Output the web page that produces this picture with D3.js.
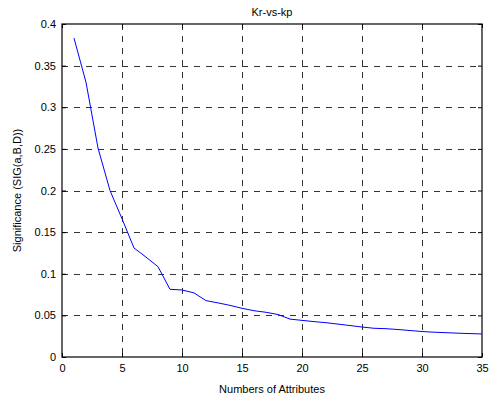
<!DOCTYPE html>
<html>
<head>
<meta charset="utf-8">
<script src="https://cdn.jsdelivr.net/npm/d3@7"></script>
<style>
body { margin: 0; background: #fff; }
svg { display: block; font-family: "Liberation Sans", Arial, sans-serif; }
.tick text { font-size: 11px; fill: #000; }
</style>
</head>
<body>
<svg width="493" height="400"></svg>
<script>
const title = 'Kr-vs-kp';
const xLabel = 'Numbers of Attributes';
const yLabel = 'Significance (SIG(a,B,D))';

const attrs = [1, 2, 3, 4, 5, 6, 7, 8, 9, 10, 11, 12, 13, 14, 15, 16, 17, 18,
    19, 20, 21, 22, 23, 24, 25, 26, 27, 28, 29, 30, 31, 32, 33, 34, 35];
const sig = [0.383, 0.330, 0.251, 0.200, 0.166, 0.131, 0.120, 0.1085, 0.0813, 0.0805,
    0.077, 0.0677, 0.065, 0.062, 0.0585, 0.0556, 0.0537, 0.051, 0.0455, 0.0440,
    0.0425, 0.0412, 0.0395, 0.0378, 0.0360, 0.0345, 0.0340, 0.0330, 0.0318, 0.0306,
    0.0298, 0.0292, 0.0286, 0.0281, 0.0277];

const xTicks = [0, 5, 10, 15, 20, 25, 30, 35];
const yTicks = [0, 0.05, 0.1, 0.15, 0.2, 0.25, 0.3, 0.35, 0.4];

const svg = d3.select('svg');
const margin = {top: 24, right: 11, bottom: 43, left: 62};
const width = 493 - margin.left - margin.right;
const height = 400 - margin.top - margin.bottom;

const x = d3.scaleLinear().domain([0, 35]).range([0, width]);
const y = d3.scaleLinear().domain([0, 0.4]).range([height, 0]);

const g = svg.append('g').attr('transform', `translate(${margin.left},${margin.top})`);

// grid
g.append('g')
.selectAll('line')
.data(xTicks.slice(1, -1))
.enter().append('line')
.attr('x1', d => x(d) + 0.5).attr('x2', d => x(d) + 0.5)
.attr('y1', 0).attr('y2', height)
.attr('stroke', '#333')
.attr('stroke-dasharray', '6,6');

g.append('g')
.selectAll('line')
.data(yTicks.slice(1, -1))
.enter().append('line')
.attr('y1', d => Math.round(y(d)) + 0.5).attr('y2', d => Math.round(y(d)) + 0.5)
.attr('x1', 0).attr('x2', width)
.attr('stroke', '#333')
.attr('stroke-dasharray', '6,6');

// axes
const fmt = d => d3.format('')(+d.toFixed(2));
g.append('g')
.attr('transform', `translate(0,${height})`)
.call(d3.axisBottom(x).tickValues(xTicks).tickSize(-4).tickPadding(7).tickFormat(d => d))
.call(a => a.select('.domain').remove());
g.append('g')
.call(d3.axisTop(x).tickValues(xTicks).tickSize(-4).tickFormat(''))
.call(a => a.select('.domain').remove());
g.append('g')
.call(d3.axisLeft(y).tickValues(yTicks).tickSize(-4).tickPadding(6).tickFormat(fmt))
.call(a => a.select('.domain').remove());
g.append('g')
.attr('transform', `translate(${width},0)`)
.call(d3.axisRight(y).tickValues(yTicks).tickSize(-4).tickFormat(''))
.call(a => a.select('.domain').remove());

g.append('rect')
.attr('x', 0).attr('y', 0)
.attr('width', width).attr('height', height)
.attr('fill', 'none')
.attr('stroke', '#000')
.attr('stroke-width', 1.2);

// line
const line = d3.line().x((d, i) => x(attrs[i])).y(d => y(d));
g.append('path')
.datum(sig)
.attr('d', line)
.attr('fill', 'none')
.attr('stroke', '#0000ff')
.attr('stroke-width', 1);

// labels
svg.append('text')
.attr('x', margin.left + width / 2)
.attr('y', 16)
.attr('text-anchor', 'middle')
.attr('font-size', 11)
.text(title);

svg.append('text')
.attr('x', margin.left + width / 2)
.attr('y', 393)
.attr('text-anchor', 'middle')
.attr('font-size', 11)
.text(xLabel);

svg.append('text')
.attr('transform', `translate(21,${margin.top + height / 2}) rotate(-90)`)
.attr('text-anchor', 'middle')
.attr('font-size', 11)
.text(yLabel);
</script>
</body>
</html>
